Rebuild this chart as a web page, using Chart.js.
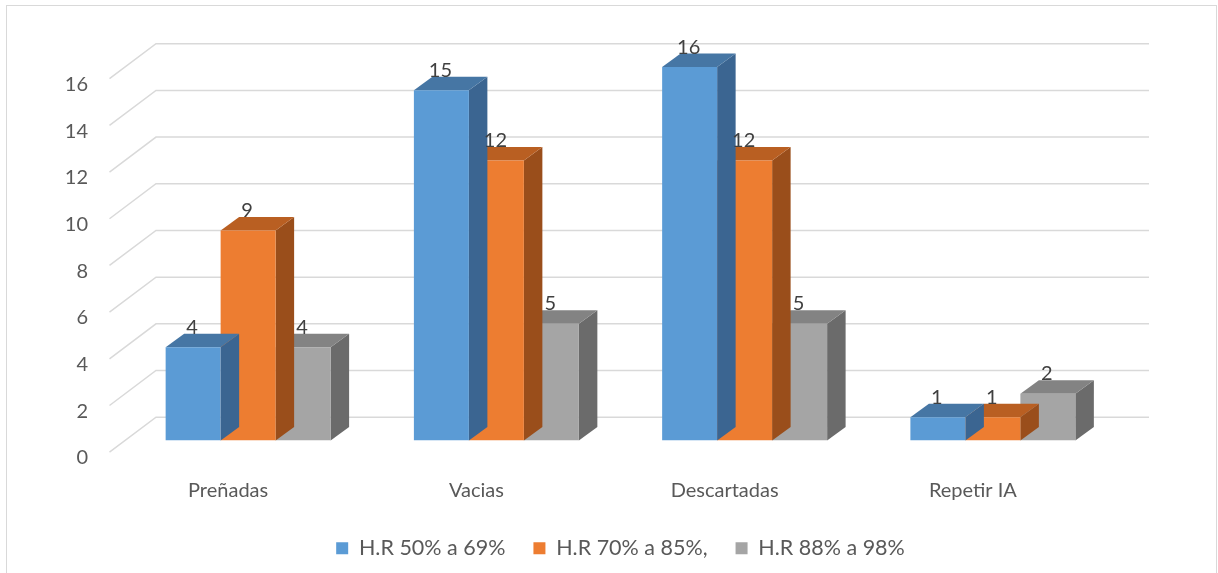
<!DOCTYPE html>
<html>
<head>
    <meta charset="UTF-8">
    <title>Humedad relativa</title>
    <script src="https://cdn.jsdelivr.net/npm/chart.js"></script>
    <style>
        body {
            margin: 0;
            background: #fff;
            overflow: hidden;
        }

        .frame {
            position: absolute;
            left: 6px;
            top: 5px;
            width: 1211px;
            height: 568px;
            border: 1.5px solid #D9D9D9;
            border-bottom: none;
            box-sizing: border-box;
        }

        #hrChart {
            position: absolute;
            left: 0;
            top: 0;
        }
    </style>
</head>
<body>
<div class="frame"></div>
<canvas id="hrChart" width="1218" height="573"></canvas>

<script>
    const categories = ['Preñadas', 'Vacias', 'Descartadas', 'Repetir IA'];
    const seriesNames = ['H.R 50% a 69%', 'H.R 70% a 85%,', 'H.R 88% a 98%'];
    const hr50a69 = [4, 15, 16, 1];
    const hr70a85 = [9, 12, 12, 1];
    const hr88a98 = [4, 5, 5, 2];
    const yMax = 16;
    const yStep = 2;

    // front / top / side colour of each series
    const shades = [
        { front: '#5B9BD5', top: '#4676A4', side: '#3B6591' },
        { front: '#ED7D31', top: '#B95F22', side: '#9A4E1B' },
        { front: '#A5A5A5', top: '#838383', side: '#6B6B6B' }
    ];

    // depth of the bars and of the back wall, in pixels
    const DEPTH_X = 18.5, DEPTH_Y = -13.5;
    const WALL_X = 32, WALL_Y = -23.3;
    const FLOOR_X = -14.5, FLOOR_Y = 11.7;

    const box3d = {
        id: 'box3d',
        beforeDatasetsDraw(chart) {
            const { ctx, chartArea, scales: { y } } = chart;
            ctx.save();
            ctx.strokeStyle = '#D9D9D9';
            ctx.lineWidth = 1.5;
            y.ticks.forEach(t => {
                const py = y.getPixelForValue(t.value);
                ctx.beginPath();
                ctx.moveTo(chartArea.left + FLOOR_X, py + FLOOR_Y);
                ctx.lineTo(chartArea.left + WALL_X, py + WALL_Y);
                ctx.lineTo(chartArea.right + WALL_X, py + WALL_Y);
                ctx.stroke();
            });
            ctx.restore();
        },
        beforeDatasetDraw(chart, args) {
            const { ctx } = chart;
            const shade = shades[args.index];
            ctx.save();
            chart.getDatasetMeta(args.index).data.forEach(bar => {
                const { x, y, base, width } = bar.getProps(['x', 'y', 'base', 'width'], true);
                const l = x - width / 2, r = x + width / 2;

                ctx.fillStyle = shade.side;
                ctx.beginPath();
                ctx.moveTo(r, y);
                ctx.lineTo(r + DEPTH_X, y + DEPTH_Y);
                ctx.lineTo(r + DEPTH_X, base + DEPTH_Y);
                ctx.lineTo(r, base);
                ctx.closePath();
                ctx.fill();

                ctx.fillStyle = shade.top;
                ctx.beginPath();
                ctx.moveTo(l, y);
                ctx.lineTo(l + DEPTH_X, y + DEPTH_Y);
                ctx.lineTo(r + DEPTH_X, y + DEPTH_Y);
                ctx.lineTo(r, y);
                ctx.closePath();
                ctx.fill();
            });
            ctx.restore();
        },
        afterDatasetsDraw(chart) {
            const { ctx } = chart;
            ctx.save();
            ctx.fillStyle = '#404040';
            ctx.font = '20px Lato';
            ctx.textAlign = 'center';
            ctx.textBaseline = 'alphabetic';
            chart.data.datasets.forEach((ds, i) => {
                chart.getDatasetMeta(i).data.forEach((bar, j) => {
                    const { x, y } = bar.getProps(['x', 'y'], true);
                    ctx.fillText(ds.data[j], x - 1, y + DEPTH_Y);
                });
            });
            ctx.restore();
        }
    };

    Chart.defaults.font.family = 'Lato';
    Chart.defaults.font.size = 20;
    Chart.defaults.color = '#595959';

    const ctx = document.getElementById('hrChart').getContext('2d');
    new Chart(ctx, {
        type: 'bar',
        data: {
            labels: categories,
            datasets: [hr50a69, hr70a85, hr88a98].map((values, i) => ({
                label: seriesNames[i],
                data: values,
                backgroundColor: shades[i].front,
                borderWidth: 0,
                barPercentage: 1,
                categoryPercentage: 0.6645
            }))
        },
        options: {
            responsive: false,
            animation: false,
            layout: {
                padding: { left: 60, right: 101, top: 67, bottom: 4 }
            },
            scales: {
                x: {
                    grid: { display: false, drawTicks: false },
                    border: { display: false },
                    ticks: { padding: 38, labelOffset: -20, maxRotation: 0, autoSkip: false },
                    afterFit: scale => { scale.height = 69; }
                },
                y: {
                    min: 0,
                    max: yMax,
                    grid: { display: false, drawTicks: false },
                    border: { display: false },
                    ticks: { stepSize: yStep, padding: 36, labelOffset: 17.5 },
                    afterFit: scale => { scale.width = 64; }
                }
            },
            plugins: {
                legend: {
                    position: 'bottom',
                    fullSize: false,
                    labels: { boxWidth: 12, boxHeight: 12, padding: 28, font: { size: 21.5 } }
                },
                tooltip: { enabled: false }
            }
        },
        plugins: [box3d]
    });
</script>
</body>
</html>
